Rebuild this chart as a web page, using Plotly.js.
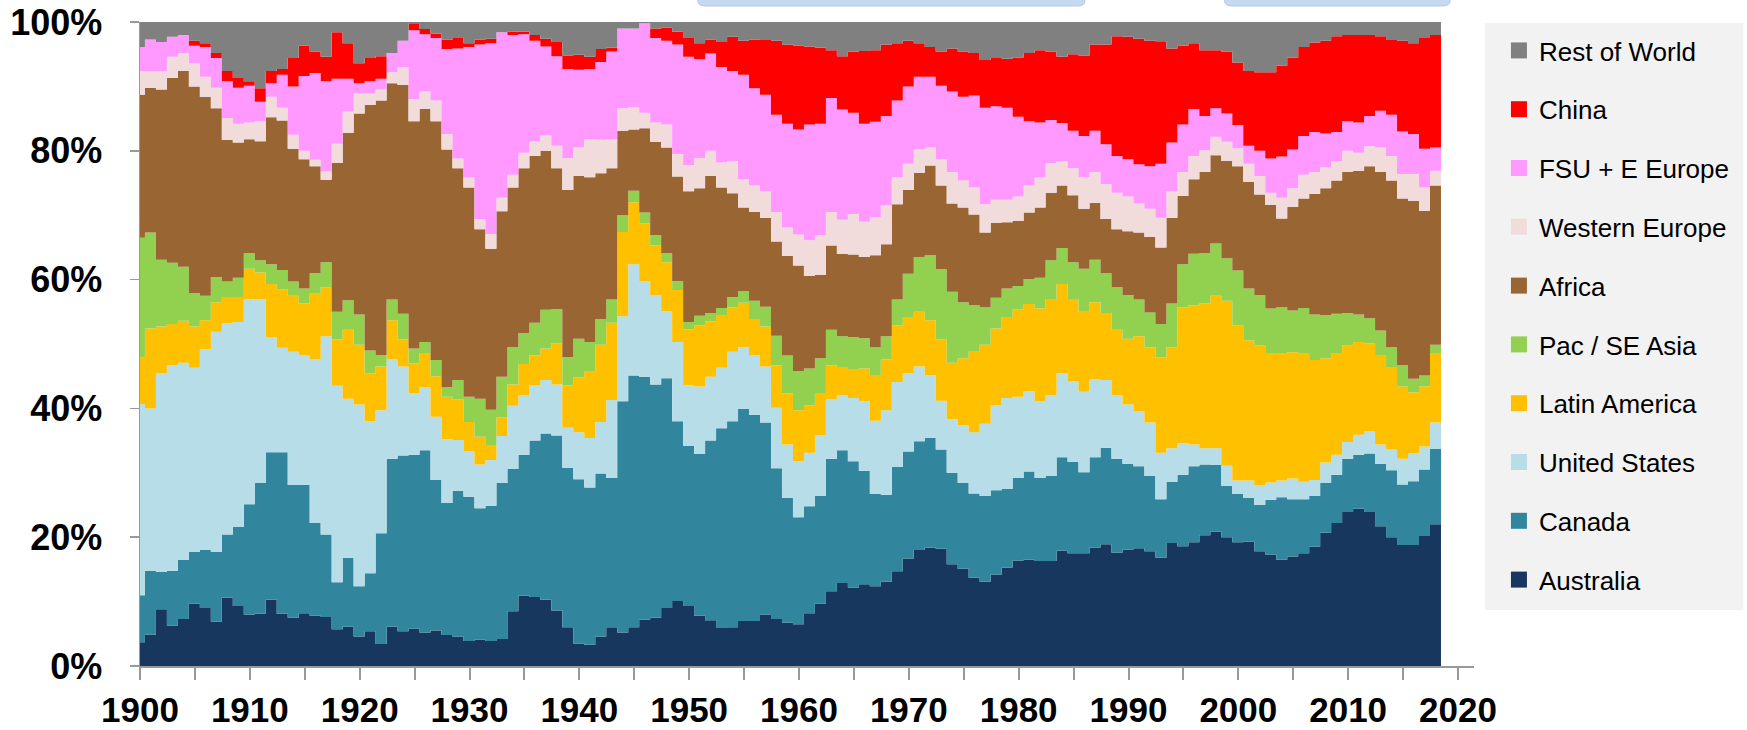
<!DOCTYPE html>
<html><head><meta charset="utf-8">
<script src="https://cdn.plot.ly/plotly-3.0.1.min.js"></script>
<style>html,body{margin:0;padding:0;background:#fff;overflow:hidden;} #chart{width:1747px;height:730px;}</style>
</head><body><div id="chart"></div>
<script>
const startYear = 1900;
// Shares of production (%), one value per year 1900..2018
const australia = [3.7,4.9,8.8,6.3,7.3,9.7,9.0,6.9,10.6,9.3,
8.0,8.1,10.3,8.1,7.5,8.2,7.8,7.6,5.7,6.1,
4.6,5.4,3.4,6.1,5.4,5.8,5.2,5.5,4.8,4.6,
3.9,4.1,3.9,4.2,8.5,10.9,10.7,10.3,8.6,6.0,
3.5,3.3,4.6,6.0,5.2,6.0,7.2,7.5,9.0,10.1,
9.3,7.8,7.1,5.9,6.0,7.0,7.0,8.0,7.3,6.7,
6.5,8.2,9.7,11.6,12.9,12.2,12.7,12.4,13.1,14.7,
16.7,18.0,18.4,18.2,15.8,15.1,13.7,13.1,14.2,15.3,
16.4,16.5,16.3,16.3,17.9,17.5,17.5,18.4,18.9,17.6,
18.1,18.3,17.8,16.8,19.1,18.6,19.2,20.3,20.9,20.0,
19.2,19.3,17.8,17.3,16.5,17.0,17.5,18.5,20.7,22.2,
23.9,24.4,23.9,21.7,20.0,18.8,18.8,20.2,22.0];
const canada = [7.3,9.9,5.8,8.5,9.2,8.0,9.0,10.8,9.8,12.3,
17.1,20.3,22.9,25.1,20.6,19.9,14.4,12.8,7.3,10.7,
7.8,9.0,17.2,26.1,27.3,27.0,28.3,23.4,20.5,22.6,
22.4,20.4,21.0,24.2,22.1,21.9,24.3,25.8,27.2,24.8,
25.5,24.4,25.3,23.2,35.9,39.1,37.7,36.2,35.7,27.9,
24.9,25.1,27.9,31.0,32.0,32.9,32.0,29.8,23.4,19.4,
16.6,16.6,16.7,20.6,20.6,19.6,17.6,14.3,13.5,16.2,
16.6,16.9,17.0,15.4,14.2,13.3,13.1,13.3,13.1,12.2,
12.8,13.7,12.9,13.2,14.5,14.2,12.6,14.0,15.0,14.6,
13.3,12.7,11.7,9.1,9.5,11.1,11.8,11.0,10.3,8.0,
7.5,6.8,7.2,8.5,9.7,8.9,8.4,7.9,7.7,7.5,
8.3,8.4,9.1,9.7,10.4,9.4,9.9,10.3,11.7];
const unitedStates = [29.7,25.2,30.8,31.9,30.6,28.6,31.2,34.2,32.8,31.8,
31.8,28.6,17.8,16.2,20.7,20.1,25.4,30.8,30.5,24.7,
28.2,23.6,19.1,15.4,13.8,9.5,9.8,9.8,9.9,7.9,
7.0,6.8,7.1,7.3,9.8,9.2,8.6,8.3,7.9,6.2,
7.3,7.7,8.0,12.1,13.2,17.3,14.9,13.9,10.4,12.3,
9.4,10.5,9.9,9.4,10.8,9.6,9.3,8.7,9.4,8.3,
8.7,8.3,9.4,9.2,8.5,9.8,10.8,11.4,13.1,13.2,
12.2,11.6,9.8,7.6,8.3,9.0,9.5,11.2,13.2,14.1,
12.6,12.5,11.9,12.6,13.0,12.5,12.5,12.1,10.5,9.8,
9.2,8.5,8.3,7.2,5.2,4.9,3.4,2.5,2.6,3.1,
2.1,2.7,3.1,2.7,2.6,3.2,2.7,2.5,3.2,3.1,
2.6,3.1,3.4,3.0,3.2,4.0,4.3,3.6,4.1];
const latinAmerica = [7.3,12.4,7.3,6.4,6.5,6.4,4.5,4.6,4.1,3.9,
4.8,4.1,8.3,9.1,8.7,8.1,10.2,7.6,7.2,10.7,
9.3,7.4,6.8,6.1,4.2,4.7,5.3,6.3,6.6,6.3,
4.6,4.3,2.3,2.9,3.3,4.9,4.6,4.9,6.4,6.6,
8.5,10.3,12.0,12.0,13.1,9.6,8.9,7.7,7.6,8.1,
8.7,9.5,8.6,8.1,6.9,6.9,5.6,6.2,6.6,7.9,
7.9,7.4,6.6,5.3,4.3,4.4,5.1,7.1,7.9,8.8,
8.7,8.5,8.5,9.5,8.8,10.4,12.5,12.3,11.9,12.6,
13.6,13.5,14.4,14.9,13.9,12.8,12.4,12.0,10.4,10.2,
10.2,11.7,11.7,14.8,15.7,21.1,21.6,22.5,23.7,25.6,
24.1,21.8,21.7,20.1,19.8,19.6,19.9,18.6,16.2,15.8,
15.0,14.4,13.7,13.9,12.7,11.2,9.5,9.3,10.8];
const pacSEAsia = [18.5,14.9,10.4,9.5,8.4,5.2,3.8,3.9,2.4,3.0,
2.4,1.9,3.1,3.0,2.2,2.3,3.2,3.9,4.3,4.6,
4.7,3.6,1.8,3.2,4.0,2.3,1.7,2.5,1.5,3.0,
3.9,5.9,5.5,6.3,5.8,4.8,5.1,6.0,5.3,4.4,
6.0,4.6,4.0,3.6,2.6,1.8,1.7,1.6,1.4,1.4,
1.1,1.5,1.3,1.2,1.6,1.8,2.8,3.1,4.6,5.9,
6.1,5.7,5.4,5.5,4.9,5.1,4.7,4.3,3.6,4.0,
6.7,8.5,10.1,10.9,11.0,8.7,7.2,5.8,4.8,4.4,
3.6,3.9,4.8,6.0,5.6,5.7,6.7,6.6,6.2,6.6,
6.8,5.7,5.4,5.2,6.8,6.7,8.0,7.8,8.1,6.6,
8.5,8.0,7.8,6.9,7.1,6.5,7.1,7.1,6.7,6.1,
5.0,4.3,3.9,3.8,3.2,3.3,2.1,1.7,1.3];
const africa = [22.2,22.5,26.4,28.7,30.4,32.1,30.9,26.2,22.0,21.0,
17.7,18.5,22.8,23.2,20.6,20.1,16.6,12.8,23.1,26.0,
31.2,38.1,39.5,33.6,35.5,35.3,36.2,37.1,36.9,32.9,
32.5,26.3,25.0,25.7,24.8,25.6,25.9,24.7,21.9,25.9,
25.3,25.6,22.6,20.4,13.1,9.5,13.1,14.5,16.4,16.2,
20.3,19.8,21.3,18.7,16.1,13.0,13.8,13.8,14.6,15.5,
16.4,14.4,12.9,13.1,12.8,12.8,12.6,14.3,14.3,14.8,
13.0,13.1,13.9,13.0,13.7,14.7,14.1,11.6,11.6,10.3,
10.1,10.3,10.9,10.5,9.7,10.4,9.3,8.8,8.4,9.0,
9.9,10.4,11.7,11.9,13.3,10.6,11.6,12.6,13.7,15.1,
16.2,16.6,15.6,16.1,13.8,16.1,17.0,18.7,19.7,20.7,
21.9,22.3,23.6,24.6,25.9,25.9,27.6,25.6,24.7];
const westernEurope = [3.7,2.6,2.9,3.3,2.8,3.6,3.1,3.2,3.4,2.9,
2.6,3.1,3.2,2.0,2.2,1.3,1.0,1.3,3.0,3.3,
3.1,1.8,1.7,1.7,2.8,3.4,2.7,3.2,2.4,1.5,
1.6,1.6,2.3,2.1,2.0,2.4,2.3,2.4,3.5,5.0,
4.4,5.9,5.2,4.5,3.5,3.5,2.4,3.0,3.6,3.5,
4.1,4.7,3.9,3.9,5.0,4.4,4.1,4.1,4.6,4.4,
4.8,5.5,6.2,5.2,5.3,6.3,5.5,5.9,6.0,4.2,
4.1,3.6,2.8,4.1,4.9,4.2,4.2,4.4,3.6,3.5,
3.8,4.2,4.7,4.6,3.8,4.2,4.9,4.8,5.4,5.7,
5.4,4.5,4.4,4.6,4.1,3.7,3.6,3.4,2.9,3.0,
2.8,2.8,2.9,1.9,3.2,2.9,3.7,3.4,3.3,3.0,
3.3,2.8,3.1,3.8,3.8,3.8,4.2,3.6,2.3];
const fsuEEurope = [3.7,4.9,4.5,3.1,2.8,2.7,4.6,4.6,5.7,5.6,
5.7,3.0,2.1,5.1,7.5,11.6,13.5,14.0,10.1,5.1,
1.6,1.9,1.7,3.0,4.1,10.7,8.9,9.7,13.2,17.1,
20.2,27.1,29.6,25.7,21.7,18.4,15.6,13.8,13.9,13.8,
12.1,10.9,12.1,13.6,12.4,12.2,13.9,13.1,13.0,17.0,
16.8,15.3,15.1,14.8,14.0,16.2,15.1,15.0,15.1,16.1,
16.3,18.0,17.3,17.7,17.1,15.7,15.2,14.8,13.9,11.9,
12.0,11.3,11.0,11.4,12.5,13.0,14.3,15.0,14.5,14.3,
12.4,10.0,8.5,6.7,5.9,5.8,6.4,6.4,6.2,5.7,
5.8,6.1,6.6,8.4,7.6,7.4,7.3,5.3,4.4,4.4,
3.6,2.8,3.9,5.3,6.4,6.0,6.0,6.2,5.2,4.5,
4.6,4.7,4.7,5.7,6.4,6.6,6.2,6.0,3.6];
const china = [0,0,0,0,0,0.8,0.6,0.8,1.6,1.5,
0.7,2.1,1.9,0.9,4.4,4.7,3.3,3.8,7.2,5.5,
3.1,3.6,3.5,0,0,1.1,0.8,0.7,1.5,1.6,
0.6,0.8,0.7,0,0.5,0.4,0.9,1.2,2.2,2.1,
2.3,1.9,2.0,0.6,0,0,0,1.5,2.0,2.0,
2.9,2.5,2.2,3.9,5.3,5.3,7.6,8.5,11.5,12.3,
13.0,12.1,11.8,7.4,8.3,9.5,11.3,11.1,11.1,8.9,
7.1,5.2,4.6,5.3,6.7,7.0,6.6,7.4,7.5,7.6,
9.2,10.6,11.2,10.6,10.3,11.9,12.5,13.4,15.5,18.6,
19.0,19.5,19.5,19.0,14.6,12.2,10.2,10.2,9.0,9.6,
9.7,11.6,12.2,13.4,14.1,14.3,13.8,13.9,14.4,14.9,
13.4,13.6,12.6,11.6,11.6,14.1,14.1,17.2,17.5];
const restOfWorld = [3.9,2.7,3.1,2.3,2.0,2.9,3.3,4.8,7.6,8.7,
9.2,10.3,7.6,7.3,5.6,3.7,4.6,5.4,1.6,3.3,
6.4,5.6,5.3,4.8,2.9,0.2,1.1,1.8,2.7,2.5,
3.3,2.7,2.6,1.6,1.5,1.5,2.0,2.6,3.1,5.2,
5.1,5.4,4.2,4.0,1.0,1.0,0.2,1.0,0.9,1.5,
2.5,3.3,2.7,3.1,2.3,2.9,2.7,2.8,2.9,3.5,
3.7,3.8,4.0,4.4,5.3,4.6,4.5,4.4,3.5,3.3,
2.9,3.3,3.9,4.6,4.1,4.6,4.8,5.9,5.6,5.7,
5.5,4.8,4.4,4.6,5.4,5.0,5.2,3.5,3.5,2.2,
2.3,2.6,2.9,3.0,4.1,3.7,3.3,4.4,4.4,4.6,
6.3,7.6,7.8,7.8,6.8,5.5,3.9,3.2,2.9,2.2,
2.0,2.0,2.0,2.2,2.8,2.9,3.3,2.5,2.0];

const seriesNames = ['Australia','Canada','United States','Latin America','Pac / SE Asia','Africa','Western Europe','FSU + E Europe','China','Rest of World'];
const seriesColors = ['#17375E','#31859C','#B7DDE8','#FFC000','#92D050','#996633','#F2DCDB','#FF99FF','#FF0000','#808080'];
const seriesValues = [australia,canada,unitedStates,latinAmerica,pacSEAsia,africa,westernEurope,fsuEEurope,china,restOfWorld];

const years = australia.map((_, i) => startYear + i);
const xs = years.map(y => Math.max(startYear, y - 0.55)).concat([years[years.length - 1] + 0.45]);

const traces = [];
seriesValues.forEach((vals, k) => {
  traces.push({
    type: 'scatter', mode: 'lines', x: xs, y: vals.concat([vals[vals.length - 1]]),
    stackgroup: 'one', line: {shape: 'hv', width: 0, color: seriesColors[k]},
    fillcolor: seriesColors[k], name: seriesNames[k], showlegend: false, hoverinfo: 'skip'
  });
});
// legend entries, top to bottom
for (let k = seriesNames.length - 1; k >= 0; k--) {
  traces.push({
    type: 'scatter', mode: 'markers', x: [null], y: [null], name: seriesNames[k],
    legendgroup: 'g' + k, showlegend: true,
    marker: {symbol: 'square', size: 17, color: seriesColors[k]}
  });
}

const L = 140, R = 270, T = 22, B = 64, W = 1747, H = 730;
const pw = W - L - R, ph = H - T - B;
const px2x = p => (p - L) / pw;
const px2y = p => (H - B - p) / ph;

function topBox(a, b) {
  const x0 = px2x(a), x1 = px2x(b), yt = px2y(-5), yb = px2y(6);
  const rx = 8 / pw, ry = 5 / ph;
  return {type: 'path', xref: 'paper', yref: 'paper',
    path: `M${x0},${yt} L${x0},${yb + ry} Q${x0},${yb} ${x0 + rx},${yb} L${x1 - rx},${yb} Q${x1},${yb} ${x1},${yb + ry} L${x1},${yt} Z`,
    fillcolor: '#C6D9F1', line: {color: '#B4C8E4', width: 1}};
}

const tickFont = {family: 'Liberation Sans, Arial, sans-serif', size: 35, color: '#000', weight: 'bold'};
const layout = {
  width: W, height: H,
  margin: {l: L, r: R, t: T, b: B, pad: 0},
  paper_bgcolor: '#fff', plot_bgcolor: '#fff',
  showlegend: true,
  xaxis: {range: [1900, 1900 + pw / 11.008], tick0: 1900, dtick: 10, ticks: 'outside', ticklen: 12, tickwidth: 2,
    tickcolor: '#999', showline: true, linecolor: '#999', linewidth: 2, showgrid: false, zeroline: false,
    tickfont: tickFont, ticklabelstandoff: 0,
    minor: {dtick: 5, tick0: 1900, ticks: 'outside', ticklen: 12, tickwidth: 2, tickcolor: '#999', showgrid: false}},
  yaxis: {range: [0, 100], dtick: 20, ticksuffix: '%', ticks: 'outside', ticklen: 9, tickwidth: 1.5,
    tickcolor: '#999', showline: true, linecolor: '#999', linewidth: 1.5, showgrid: false, zeroline: false,
    tickfont: Object.assign({}, tickFont, {size: 36}), ticklabelstandoff: 20},
  legend: {x: px2x(1502), xanchor: 'left', y: px2y(27), yanchor: 'top', bgcolor: 'rgba(0,0,0,0)',
    traceorder: 'grouped', tracegroupgap: 22, itemwidth: 30,
    font: {family: 'Liberation Sans, Arial, sans-serif', size: 26, color: '#000'}},
  shapes: [
    {type: 'rect', xref: 'paper', yref: 'paper', x0: px2x(1488), x1: px2x(1747), y0: px2y(610), y1: px2y(23),
      fillcolor: '#F2F2F2', line: {width: 0}, layer: 'below'},
    topBox(699, 1087), topBox(1227, 1453)
  ]
};
Plotly.newPlot('chart', traces, layout, {displayModeBar: false, staticPlot: true});
</script>
</body></html>
